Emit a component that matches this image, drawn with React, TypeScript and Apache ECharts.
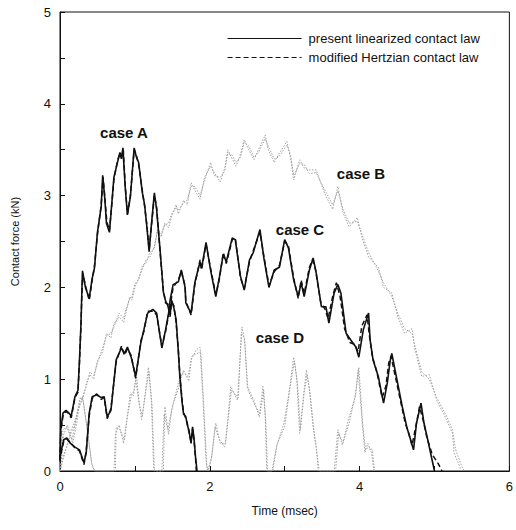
import React, { useEffect, useRef } from "react";
import * as echarts from "echarts";

const PRESENT = "present linearized contact law";
const MODIFIED = "modified Hertzian contact law";

const xTicks = [0, 1, 2, 3, 4, 5, 6];
const yTicks = [0, 0.5, 1, 1.5, 2, 2.5, 3, 3.5, 4, 4.5, 5];

const caseLabels = [
  { text: "case A", x: 124, y: 132 },
  { text: "case B", x: 361, y: 173 },
  { text: "case C", x: 300, y: 229 },
  { text: "case D", x: 280, y: 337 },
];

const caseAPresent: [number, number][] = [
  [0, 0.15], [0.01, 0.45], [0.04, 0.63], [0.08, 0.66], [0.11, 0.64], [0.15, 0.6], [0.2, 0.81], [0.24, 0.88],
  [0.26, 1.21], [0.28, 1.6], [0.29, 1.9], [0.3, 2.18], [0.34, 2.0], [0.39, 1.88], [0.43, 2.1], [0.46, 2.21],
  [0.5, 2.6], [0.55, 2.88], [0.57, 3.22], [0.6, 2.95], [0.62, 2.7], [0.66, 2.6], [0.7, 3.0], [0.72, 3.2],
  [0.77, 3.37], [0.8, 3.47], [0.82, 3.4], [0.84, 3.52], [0.87, 3.1], [0.9, 2.79], [0.94, 2.99], [0.99, 3.52],
  [1.02, 3.42], [1.05, 3.36], [1.1, 3.03], [1.13, 2.9], [1.16, 2.66], [1.19, 2.39], [1.22, 2.68], [1.26, 3.03],
  [1.29, 2.85], [1.34, 2.37], [1.38, 1.95], [1.41, 1.85], [1.44, 1.8], [1.47, 1.7], [1.49, 1.86], [1.52, 1.78],
  [1.55, 1.65], [1.58, 1.3], [1.6, 1.03], [1.63, 0.75], [1.65, 0.62], [1.68, 0.59], [1.7, 0.5], [1.72, 0.45],
  [1.75, 0.3], [1.77, 0.48], [1.79, 0.35], [1.81, 0.15], [1.83, 0],
];

const caseAModified: [number, number][] = [
  [0, 0.12], [0.01, 0.43], [0.04, 0.6], [0.08, 0.65], [0.11, 0.63], [0.15, 0.58], [0.2, 0.8], [0.24, 0.86],
  [0.26, 1.18], [0.28, 1.58], [0.29, 1.88], [0.305, 2.15], [0.34, 2.02], [0.39, 1.86], [0.43, 2.08], [0.46, 2.23],
  [0.5, 2.58], [0.55, 2.9], [0.575, 3.2], [0.6, 2.97], [0.625, 2.72], [0.66, 2.62], [0.7, 2.98], [0.72, 3.18],
  [0.77, 3.39], [0.8, 3.45], [0.82, 3.42], [0.845, 3.5], [0.87, 3.12], [0.9, 2.8], [0.94, 3.0], [0.99, 3.5],
  [1.02, 3.44], [1.05, 3.34], [1.1, 3.05], [1.13, 2.88], [1.16, 2.68], [1.19, 2.41], [1.22, 2.66], [1.26, 3.0],
  [1.29, 2.87], [1.34, 2.35], [1.38, 1.97], [1.41, 1.83], [1.44, 1.82], [1.47, 1.68], [1.49, 1.84], [1.52, 1.8],
  [1.55, 1.62], [1.58, 1.32], [1.6, 1.05], [1.63, 0.77], [1.65, 0.64], [1.68, 0.57], [1.7, 0.52], [1.72, 0.43],
  [1.75, 0.32], [1.77, 0.46], [1.79, 0.33], [1.81, 0.13], [1.82, 0],
];

const caseCPresent: [number, number][] = [
  [0, 0.12], [0.01, 0.2], [0.05, 0.34], [0.09, 0.36], [0.14, 0.3], [0.2, 0.26], [0.26, 0.23], [0.32, 0.09],
  [0.35, 0.2], [0.39, 0.63], [0.43, 0.81], [0.49, 0.83], [0.55, 0.8], [0.59, 0.81], [0.63, 0.59], [0.68, 0.66],
  [0.75, 1.21], [0.82, 1.34], [0.86, 1.28], [0.9, 1.35], [0.95, 1.24], [1.01, 1.03], [1.08, 1.4], [1.12, 1.54],
  [1.17, 1.72], [1.24, 1.76], [1.29, 1.72], [1.36, 1.34], [1.41, 1.54], [1.45, 1.72], [1.47, 1.86], [1.51, 2.03],
  [1.58, 2.06], [1.62, 2.19], [1.67, 2.0], [1.68, 1.83], [1.75, 1.72], [1.8, 2.05], [1.87, 2.28], [1.89, 2.21],
  [1.95, 2.49], [2.01, 2.19], [2.08, 1.9], [2.13, 2.12], [2.18, 2.36], [2.22, 2.28], [2.3, 2.54], [2.34, 2.52],
  [2.41, 2.12], [2.46, 1.97], [2.53, 2.3], [2.58, 2.38], [2.67, 2.63], [2.72, 2.33], [2.79, 2.0], [2.86, 2.19],
  [2.93, 2.22], [3.0, 2.52], [3.05, 2.43], [3.12, 2.08], [3.18, 1.9], [3.22, 2.05], [3.26, 1.9], [3.33, 2.19],
  [3.38, 2.32], [3.42, 2.16], [3.49, 1.79], [3.55, 1.79], [3.59, 1.61], [3.66, 1.94], [3.71, 2.03], [3.75, 1.94],
  [3.82, 1.5], [3.88, 1.43], [3.95, 1.35], [3.99, 1.24], [4.05, 1.54], [4.12, 1.72], [4.14, 1.43], [4.18, 1.21],
  [4.25, 1.03], [4.32, 0.74], [4.37, 0.96], [4.41, 1.21], [4.43, 1.28], [4.5, 0.99], [4.57, 0.7], [4.63, 0.48],
  [4.67, 0.37], [4.72, 0.23], [4.76, 0.52], [4.82, 0.74], [4.86, 0.52], [4.91, 0.34], [4.96, 0.15], [5.0, 0],
];

const caseCModified: [number, number][] = [
  [0, 0.1], [0.01, 0.18], [0.05, 0.32], [0.09, 0.35], [0.14, 0.31], [0.2, 0.25], [0.26, 0.22], [0.32, 0.07],
  [0.35, 0.22], [0.39, 0.6], [0.43, 0.79], [0.49, 0.84], [0.55, 0.78], [0.59, 0.8], [0.63, 0.57], [0.68, 0.68],
  [0.75, 1.19], [0.82, 1.36], [0.86, 1.26], [0.9, 1.33], [0.95, 1.26], [1.01, 1.01], [1.08, 1.42], [1.12, 1.52],
  [1.17, 1.74], [1.24, 1.74], [1.29, 1.7], [1.36, 1.36], [1.41, 1.52], [1.45, 1.7], [1.48, 1.84], [1.51, 2.0],
  [1.58, 2.08], [1.62, 2.17], [1.67, 2.02], [1.68, 1.85], [1.75, 1.7], [1.8, 2.03], [1.87, 2.3], [1.89, 2.19],
  [1.95, 2.47], [2.01, 2.21], [2.08, 1.92], [2.13, 2.1], [2.18, 2.38], [2.22, 2.26], [2.3, 2.52], [2.34, 2.54],
  [2.41, 2.1], [2.46, 1.99], [2.53, 2.28], [2.58, 2.4], [2.67, 2.6], [2.72, 2.35], [2.79, 2.02], [2.86, 2.17],
  [2.93, 2.24], [3.0, 2.5], [3.05, 2.45], [3.12, 2.1], [3.18, 1.88], [3.22, 2.08], [3.26, 1.93], [3.33, 2.22],
  [3.37, 2.3], [3.41, 2.2], [3.48, 1.84], [3.54, 1.76], [3.58, 1.66], [3.64, 1.9], [3.69, 2.05], [3.74, 1.9],
  [3.8, 1.55], [3.87, 1.4], [3.93, 1.38], [3.98, 1.3], [4.03, 1.58], [4.1, 1.7], [4.13, 1.48], [4.17, 1.25],
  [4.23, 1.08], [4.3, 0.8], [4.35, 0.92], [4.39, 1.18], [4.42, 1.25], [4.48, 1.02], [4.55, 0.75], [4.61, 0.52],
  [4.66, 0.4], [4.7, 0.28], [4.75, 0.48], [4.8, 0.7], [4.85, 0.55], [4.9, 0.36], [4.97, 0.18], [5.05, 0.08], [5.1, 0],
];

const caseBPresent: [number, number][] = [
  [0, 0], [0.05, 0.15], [0.1, 0.3], [0.15, 0.42], [0.2, 0.5], [0.25, 0.7], [0.3, 0.77], [0.35, 0.95],
  [0.4, 1.05], [0.45, 1.0], [0.5, 1.2], [0.57, 1.3], [0.62, 1.5], [0.68, 1.45], [0.72, 1.6], [0.79, 1.68],
  [0.85, 1.62], [0.88, 1.72], [0.93, 1.9], [0.96, 1.86], [1.0, 2.0], [1.05, 2.1], [1.1, 2.2], [1.15, 2.3],
  [1.2, 2.33], [1.26, 2.45], [1.3, 2.6], [1.35, 2.55], [1.4, 2.7], [1.45, 2.65], [1.49, 2.77], [1.55, 2.9],
  [1.58, 2.8], [1.65, 2.95], [1.7, 2.9], [1.75, 3.14], [1.8, 3.06], [1.87, 2.96], [1.93, 3.2], [2.01, 3.32],
  [2.06, 3.25], [2.14, 3.15], [2.2, 3.3], [2.24, 3.5], [2.3, 3.4], [2.35, 3.32], [2.41, 3.45], [2.46, 3.61],
  [2.52, 3.5], [2.59, 3.39], [2.65, 3.5], [2.74, 3.66], [2.78, 3.5], [2.86, 3.36], [2.92, 3.45], [3.03, 3.59],
  [3.08, 3.4], [3.12, 3.17], [3.2, 3.39], [3.26, 3.3], [3.33, 3.28], [3.42, 3.28], [3.53, 3.03], [3.64, 2.85],
  [3.71, 3.1], [3.78, 2.81], [3.86, 2.66], [3.97, 2.76], [4.04, 2.52], [4.12, 2.33], [4.25, 2.22], [4.32, 2.0],
  [4.43, 1.94], [4.51, 1.68], [4.6, 1.5], [4.7, 1.55], [4.74, 1.32], [4.83, 1.03], [4.93, 1.05], [5.03, 0.77],
  [5.16, 0.56], [5.24, 0.41], [5.26, 0.2], [5.34, 0.04], [5.36, 0],
];

const caseBModified: [number, number][] = [
  [0, 0], [0.05, 0.18], [0.1, 0.28], [0.15, 0.45], [0.2, 0.55], [0.25, 0.68], [0.3, 0.8], [0.35, 0.92],
  [0.4, 1.08], [0.45, 1.04], [0.5, 1.18], [0.57, 1.34], [0.62, 1.47], [0.68, 1.5], [0.72, 1.57], [0.79, 1.72],
  [0.85, 1.66], [0.88, 1.76], [0.93, 1.87], [0.96, 1.9], [1.0, 2.04], [1.05, 2.08], [1.1, 2.24], [1.15, 2.27],
  [1.2, 2.38], [1.26, 2.42], [1.3, 2.63], [1.35, 2.58], [1.4, 2.68], [1.45, 2.7], [1.49, 2.8], [1.55, 2.87],
  [1.58, 2.84], [1.65, 2.92], [1.7, 2.95], [1.75, 3.1], [1.8, 3.1], [1.87, 3.0], [1.93, 3.16], [2.01, 3.36],
  [2.06, 3.22], [2.14, 3.2], [2.2, 3.27], [2.24, 3.46], [2.3, 3.44], [2.35, 3.36], [2.41, 3.42], [2.46, 3.58],
  [2.52, 3.54], [2.59, 3.42], [2.65, 3.47], [2.74, 3.62], [2.78, 3.54], [2.86, 3.4], [2.92, 3.42], [3.03, 3.55],
  [3.08, 3.44], [3.12, 3.22], [3.2, 3.35], [3.26, 3.34], [3.33, 3.24], [3.42, 3.25], [3.53, 3.07], [3.64, 2.9],
  [3.71, 3.05], [3.78, 2.85], [3.86, 2.7], [3.97, 2.72], [4.04, 2.56], [4.12, 2.38], [4.25, 2.18], [4.32, 2.05],
  [4.43, 1.9], [4.51, 1.72], [4.6, 1.55], [4.7, 1.5], [4.74, 1.36], [4.83, 1.08], [4.93, 1.0], [5.03, 0.8],
  [5.16, 0.6], [5.24, 0.45], [5.28, 0.24], [5.36, 0.06], [5.4, 0],
];

const caseDPresent: [number, number][] = [
  [0, 0], [0.01, 0.09], [0.04, 0.45], [0.09, 0.48], [0.16, 0.34], [0.22, 0.59], [0.26, 0.77], [0.3, 0.81],
  [0.36, 0.48], [0.42, 0.09], [0.46, 0], [0.74, 0], [0.75, 0.48], [0.8, 0.45], [0.86, 0.34], [0.9, 0.59],
  [0.95, 0.81], [0.99, 0.88], [1.01, 1.0], [1.05, 0.77], [1.09, 0.56], [1.14, 0.85], [1.18, 1.13], [1.22, 0.77],
  [1.25, 0.04], [1.27, 0], [1.38, 0], [1.4, 0.7], [1.45, 0.4], [1.49, 0.66], [1.58, 0.96], [1.64, 1.07],
  [1.71, 1.03], [1.75, 1.21], [1.82, 1.32], [1.87, 1.35], [1.91, 0.77], [1.95, 0.12], [1.97, 0], [2.02, 0.12],
  [2.07, 0.48], [2.13, 0.34], [2.2, 0.26], [2.24, 0.56], [2.28, 0.92], [2.37, 0.77], [2.43, 1.57], [2.47, 1.4],
  [2.5, 0.92], [2.59, 0.77], [2.66, 0.59], [2.71, 0.92], [2.74, 0.59], [2.76, 0], [2.83, 0], [2.89, 0.26],
  [2.99, 0.52], [3.05, 0.81], [3.12, 1.24], [3.16, 1.02], [3.2, 0.41], [3.25, 0.81], [3.29, 1.1], [3.33, 0.88],
  [3.38, 0.48], [3.42, 0.26], [3.45, 0], [3.68, 0], [3.72, 0.41], [3.78, 0.31], [3.86, 0.52], [3.95, 0.85],
  [3.99, 1.13], [4.04, 0.52], [4.08, 0.23], [4.12, 0.26], [4.17, 0.23], [4.2, 0],
];

const caseDModified: [number, number][] = [
  [0, 0], [0.02, 0.12], [0.05, 0.4], [0.1, 0.5], [0.17, 0.3], [0.23, 0.55], [0.27, 0.8], [0.31, 0.76],
  [0.37, 0.42], [0.43, 0.05], [0.47, 0], [0.72, 0], [0.74, 0.4], [0.79, 0.5], [0.85, 0.3], [0.89, 0.55],
  [0.94, 0.85], [0.98, 0.82], [1.02, 1.05], [1.06, 0.72], [1.1, 0.6], [1.15, 0.9], [1.19, 1.08], [1.23, 0.7],
  [1.26, 0], [1.36, 0], [1.39, 0.62], [1.44, 0.45], [1.5, 0.7], [1.59, 0.92], [1.65, 1.1], [1.72, 0.98],
  [1.76, 1.25], [1.83, 1.28], [1.88, 1.3], [1.92, 0.7], [1.96, 0.05], [1.98, 0], [2.03, 0.18], [2.08, 0.52],
  [2.14, 0.3], [2.21, 0.3], [2.25, 0.6], [2.29, 0.88], [2.38, 0.8], [2.42, 1.5], [2.46, 1.45], [2.51, 0.88],
  [2.6, 0.72], [2.67, 0.62], [2.72, 0.88], [2.75, 0.5], [2.77, 0], [2.84, 0], [2.9, 0.3], [3.0, 0.48],
  [3.06, 0.85], [3.13, 1.2], [3.17, 0.95], [3.21, 0.45], [3.26, 0.85], [3.3, 1.05], [3.34, 0.84], [3.39, 0.44],
  [3.43, 0.2], [3.46, 0], [3.66, 0], [3.71, 0.45], [3.77, 0.28], [3.85, 0.56], [3.94, 0.8], [3.98, 1.1],
  [4.03, 0.58], [4.07, 0.2], [4.11, 0.3], [4.16, 0.2], [4.19, 0],
];

const FONT = "'Liberation Sans', Arial, Helvetica, sans-serif";

export default function App() {
  const ref = useRef<HTMLDivElement>(null);

  useEffect(() => {
    if (!ref.current) return;
    const chart = echarts.init(ref.current, null, { renderer: "svg" });

    const solid = (name: string, data: [number, number][]) => ({
      type: "line", name, data, symbol: "none", showSymbol: false, z: 3,
      lineStyle: { color: "#111", width: 1.6, type: "solid" },
      itemStyle: { color: "#111" },
    });
    const dashed = (name: string, data: [number, number][]) => ({
      type: "line", name, data, symbol: "none", showSymbol: false, z: 3,
      lineStyle: { color: "#111", width: 1.5, type: [5, 3] },
      itemStyle: { color: "#111" },
    });
    const dotted = (name: string, data: [number, number][]) => ({
      type: "line", name, data, symbol: "none", showSymbol: false, z: 2,
      lineStyle: { color: "#a0a0a0", width: 1, type: [1.5, 1.5] },
      itemStyle: { color: "#a0a0a0" },
    });

    chart.setOption({
      animation: false,
      backgroundColor: "#fff",
      textStyle: { fontFamily: FONT },
      grid: {
        left: 60, right: 1, top: 12, bottom: 59, show: true,
        borderColor: "#111", borderWidth: 1, backgroundColor: "transparent",
      },
      legend: {
        data: [PRESENT, MODIFIED],
        orient: "vertical",
        left: 222, top: 27,
        itemWidth: 74, itemHeight: 10, itemGap: 6,
        itemStyle: { color: "rgba(0,0,0,0)", borderWidth: 0, opacity: 0 },
        lineStyle: { width: 1.2 },
        textStyle: { fontSize: 13, color: "#111", fontFamily: FONT, padding: [0, 0, 0, 2] },
      },
      xAxis: {
        type: "value", min: xTicks[0], max: xTicks[xTicks.length - 1], interval: 1,
        name: "Time (msec)", nameLocation: "middle", nameGap: 34,
        nameTextStyle: { fontSize: 12, color: "#111", fontFamily: FONT },
        axisLine: { show: true, lineStyle: { color: "#111", width: 1 } },
        axisTick: { show: true, inside: true, length: 5, lineStyle: { color: "#111" } },
        axisLabel: {
          fontSize: 13, color: "#111", margin: 9, fontFamily: FONT,
          formatter: (v: number) => (Math.round(v) % 2 === 0 ? String(Math.round(v)) : ""),
        },
        splitLine: { show: false },
      },
      yAxis: {
        type: "value", min: yTicks[0], max: yTicks[yTicks.length - 1], interval: 0.5,
        name: "Contact force (kN)", nameLocation: "middle", nameGap: 40,
        nameTextStyle: { fontSize: 11, color: "#111", fontFamily: FONT },
        axisLine: { show: true, lineStyle: { color: "#111", width: 1 } },
        axisTick: { show: true, inside: true, length: 5, lineStyle: { color: "#111" } },
        axisLabel: {
          fontSize: 13, color: "#111", margin: 9, fontFamily: FONT,
          formatter: (v: number) => (Number.isInteger(v) ? String(v) : ""),
        },
        splitLine: { show: false },
      },
      graphic: caseLabels.map((c) => ({
        type: "text", x: c.x, y: c.y, z: 10,
        style: {
          text: c.text, fill: "#111", font: `bold 15px ${FONT}`,
          textAlign: "center", textVerticalAlign: "middle",
        },
      })),
      series: [
        solid(PRESENT, caseAPresent),
        dashed(MODIFIED, caseAModified),
        solid(PRESENT, caseCPresent),
        dashed(MODIFIED, caseCModified),
        dotted(PRESENT, caseBPresent),
        dotted(MODIFIED, caseBModified),
        dotted(PRESENT, caseDPresent),
        dotted(MODIFIED, caseDModified),
      ],
    });

    return () => chart.dispose();
  }, []);

  return (
    <div
      ref={ref}
      style={{ position: "fixed", left: 0, top: 0, width: 516, height: 530, background: "#fff" }}
    />
  );
}
